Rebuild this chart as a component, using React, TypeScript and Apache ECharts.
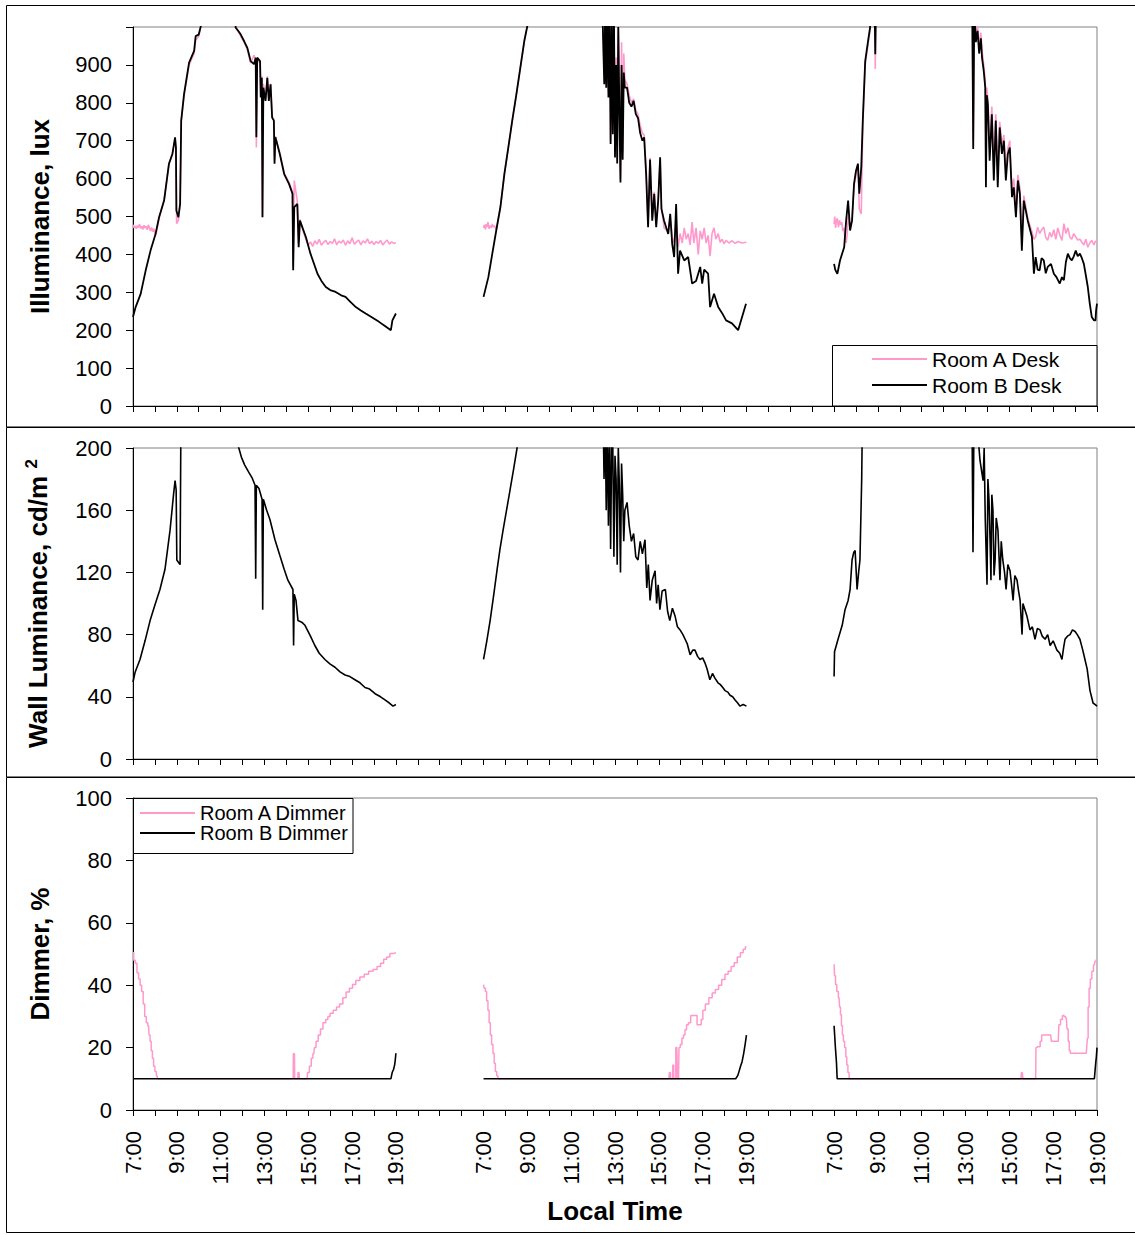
import React, { useEffect, useRef } from 'react';
import * as echarts from 'echarts';

const FONT = "'Liberation Sans', Arial, Helvetica, sans-serif";
const PINK = '#FF99CC';
const BLACK = '#000000';

// x axis: three days of 7:00-19:00, 4 empty hour slots between days
const DAY_OFFSET = [0, 16, 32];
const X_MAX = 44;
const TIME_LABELS = ['7:00', '9:00', '11:00', '13:00', '15:00', '17:00', '19:00'];

const ILLUM_AXIS = { min: 0, max: 1000, interval: 100 };
const WALL_AXIS = { min: 0, max: 200, interval: 40 };
const DIMMER_AXIS = { min: 0, max: 100, interval: 20 };

// ---------- Desk illuminance, lux  [hour of day, value] ----------
const deskA1: number[][] = [
  [7.0, 478], [7.05, 470], [7.1, 475], [7.15, 468], [7.2, 476], [7.25, 471], [7.3, 480], [7.35, 469],
  [7.4, 474], [7.45, 466], [7.5, 477], [7.55, 470], [7.6, 474], [7.65, 465], [7.7, 478], [7.75, 470],
  [7.8, 462], [7.85, 471], [7.9, 460], [7.95, 468], [8.0, 455], [8.05, 452], [8.19, 495], [8.42, 545],
  [8.64, 636], [8.8, 668], [8.92, 705], [8.96, 680], [8.99, 481], [9.07, 490], [9.15, 530], [9.2, 750],
  [9.33, 818], [9.56, 900], [9.79, 930], [9.86, 965], [10.0, 975], [10.1, 1003], [10.5, 1150], [11.0, 1200],
  [11.5, 1080], [11.69, 998], [11.8, 988], [11.92, 975], [12.07, 960], [12.22, 940], [12.37, 905], [12.52, 925],
  [12.6, 915], [12.63, 682], [12.67, 915], [12.8, 905], [12.83, 820], [12.88, 870], [12.91, 498], [12.95, 850],
  [13.05, 810], [13.13, 870], [13.2, 810], [13.28, 850], [13.35, 765], [13.43, 755], [13.46, 650], [13.5, 712],
  [13.7, 668], [13.9, 615], [14.12, 590], [14.28, 565], [14.31, 370], [14.36, 595], [14.5, 540], [14.56, 430],
  [14.62, 492], [14.8, 455], [14.9, 438], [15.0, 425], [15.1, 433], [15.2, 421], [15.3, 436], [15.4, 427],
  [15.5, 440], [15.6, 424], [15.7, 432], [15.8, 437], [15.9, 426], [16.0, 434], [16.1, 429], [16.2, 441],
  [16.3, 425], [16.4, 435], [16.5, 430], [16.6, 438], [16.7, 424], [16.8, 436], [16.9, 428], [17.0, 444],
  [17.1, 427], [17.2, 433], [17.3, 438], [17.4, 425], [17.5, 436], [17.6, 430], [17.7, 441], [17.8, 428],
  [17.9, 435], [18.0, 426], [18.1, 434], [18.2, 429], [18.3, 437], [18.4, 425], [18.5, 432], [18.6, 438],
  [18.7, 427], [18.8, 433], [18.9, 429], [19.0, 431],
];
const deskB1: number[][] = [
  [7.0, 235], [7.12, 261], [7.35, 296], [7.58, 358], [7.8, 410], [8.03, 454], [8.19, 498], [8.42, 542],
  [8.64, 639], [8.8, 665], [8.92, 709], [8.96, 682], [8.98, 516], [9.07, 498], [9.15, 533], [9.2, 753],
  [9.33, 823], [9.56, 906], [9.79, 937], [9.86, 976], [10.0, 980], [10.1, 1003], [10.5, 1150], [11.0, 1200],
  [11.5, 1080], [11.69, 998], [11.8, 990], [11.92, 980], [12.07, 963], [12.22, 945], [12.37, 910], [12.52, 902],
  [12.6, 919], [12.63, 709], [12.67, 919], [12.8, 910], [12.83, 814], [12.88, 866], [12.91, 498], [12.95, 840],
  [13.05, 805], [13.13, 866], [13.2, 805], [13.28, 849], [13.35, 761], [13.43, 753], [13.46, 639], [13.5, 709],
  [13.7, 665], [13.9, 612], [14.12, 586], [14.28, 560], [14.31, 358], [14.36, 525], [14.5, 533], [14.56, 419],
  [14.62, 489], [14.89, 446], [15.1, 402], [15.42, 349], [15.6, 330], [15.8, 314], [16.0, 306], [16.25, 301],
  [16.5, 292], [16.7, 288], [16.9, 276], [17.17, 261], [17.4, 252], [17.62, 244], [17.9, 234], [18.23, 222],
  [18.5, 211], [18.77, 200], [18.84, 226], [19.0, 244],
];
const deskA2: number[][] = [
  [7.0, 470], [7.04, 478], [7.08, 466], [7.12, 480], [7.16, 472], [7.2, 485], [7.25, 468], [7.3, 476],
  [7.35, 470], [7.4, 480], [7.45, 472], [7.5, 476], [7.58, 465], [7.77, 525], [7.95, 612], [8.13, 682],
  [8.31, 753], [8.5, 823], [8.68, 893], [8.86, 963], [9.0, 1003], [10.0, 1200], [11.5, 1250], [12.4, 1100],
  [12.51, 870], [12.55, 1050], [12.6, 860], [12.65, 1050], [12.7, 830], [12.75, 1050], [12.8, 700], [12.85, 1020],
  [12.9, 730], [12.95, 1050], [13.0, 670], [13.05, 920], [13.1, 660], [13.15, 1000], [13.2, 800], [13.25, 600],
  [13.3, 960], [13.35, 670], [13.4, 930], [13.45, 860], [13.55, 850], [13.65, 820], [13.75, 800], [13.85, 810],
  [13.95, 780], [14.05, 770], [14.15, 740], [14.25, 720], [14.33, 715], [14.42, 630], [14.51, 480], [14.6, 655],
  [14.7, 495], [14.79, 565], [14.88, 480], [14.97, 545], [15.06, 650], [15.12, 525], [15.24, 470], [15.43, 460],
  [15.52, 500], [15.61, 445], [15.7, 430], [15.79, 489], [15.88, 420], [15.97, 455], [16.07, 430], [16.16, 470],
  [16.25, 440], [16.34, 455], [16.43, 425], [16.52, 485], [16.6, 430], [16.7, 470], [16.8, 400], [16.89, 462],
  [16.98, 440], [17.07, 470], [17.16, 430], [17.25, 450], [17.34, 395], [17.43, 455], [17.52, 470], [17.6, 440],
  [17.71, 455], [17.8, 432], [17.89, 440], [17.98, 428], [18.07, 437], [18.2, 430], [18.34, 436], [18.48, 429],
  [18.62, 434], [18.8, 430], [19.0, 432],
];
const deskB2: number[][] = [
  [7.0, 288], [7.22, 340], [7.4, 402], [7.58, 463], [7.77, 525], [7.95, 612], [8.13, 682], [8.31, 753],
  [8.5, 823], [8.68, 893], [8.86, 963], [9.0, 1003], [10.0, 1200], [11.5, 1250], [12.4, 1100], [12.51, 849],
  [12.55, 1050], [12.6, 840], [12.65, 1050], [12.7, 814], [12.75, 1050], [12.8, 691], [12.85, 1020], [12.9, 717],
  [12.95, 1050], [13.0, 656], [13.05, 900], [13.1, 640], [13.15, 1000], [13.2, 780], [13.25, 590], [13.3, 900],
  [13.35, 650], [13.4, 880], [13.45, 840], [13.55, 840], [13.65, 800], [13.75, 790], [13.85, 805], [13.95, 770],
  [14.05, 760], [14.15, 720], [14.25, 700], [14.33, 709], [14.42, 612], [14.51, 472], [14.6, 650], [14.7, 489],
  [14.79, 560], [14.88, 472], [14.97, 540], [15.06, 656], [15.12, 520], [15.24, 489], [15.43, 454], [15.52, 507],
  [15.61, 428], [15.7, 393], [15.79, 533], [15.88, 349], [15.97, 410], [16.16, 384], [16.34, 393], [16.52, 323],
  [16.7, 330], [16.89, 367], [16.98, 323], [17.07, 360], [17.25, 349], [17.34, 261], [17.52, 296], [17.71, 261],
  [17.89, 245], [18.07, 226], [18.34, 218], [18.62, 200], [18.8, 235], [18.98, 270],
];
const deskA3: number[][] = [
  [7.0, 480], [7.03, 500], [7.07, 470], [7.1, 488], [7.15, 495], [7.2, 472], [7.25, 490], [7.3, 478],
  [7.35, 485], [7.4, 462], [7.45, 470], [7.5, 440], [7.55, 430], [7.6, 455], [7.65, 500], [7.73, 470],
  [7.82, 495], [7.91, 580], [8.0, 610], [8.09, 640], [8.15, 520], [8.24, 507], [8.31, 740], [8.42, 900],
  [8.55, 955], [8.64, 990], [8.75, 1100], [8.85, 1050], [8.88, 889], [8.92, 1100], [10.0, 1250], [12.0, 1250],
  [13.3, 1100], [13.35, 700], [13.4, 1050], [13.47, 980], [13.55, 1000], [13.62, 950], [13.7, 985], [13.75, 940],
  [13.83, 900], [13.9, 860], [13.93, 620], [13.97, 840], [14.02, 810], [14.1, 680], [14.2, 790], [14.29, 630],
  [14.38, 770], [14.47, 610], [14.56, 750], [14.66, 690], [14.75, 715], [14.84, 620], [14.93, 680], [15.02, 700],
  [15.12, 570], [15.2, 600], [15.3, 520], [15.39, 610], [15.48, 575], [15.57, 440], [15.66, 555], [15.84, 495],
  [16.03, 460], [16.12, 440], [16.2, 446], [16.29, 472], [16.38, 455], [16.47, 465], [16.57, 472], [16.66, 445],
  [16.75, 437], [16.84, 458], [16.93, 446], [17.03, 465], [17.12, 440], [17.21, 470], [17.3, 452], [17.4, 437],
  [17.49, 481], [17.58, 455], [17.67, 470], [17.76, 446], [17.85, 440], [17.94, 455], [18.03, 446], [18.12, 438],
  [18.22, 440], [18.31, 432], [18.4, 425], [18.49, 440], [18.58, 419], [18.67, 430], [18.76, 437], [18.86, 425],
  [18.93, 435], [19.0, 432],
];
const deskB3: number[][] = [
  [7.0, 375], [7.05, 360], [7.15, 349], [7.27, 384], [7.46, 419], [7.55, 489], [7.64, 542], [7.73, 463],
  [7.82, 489], [7.91, 586], [8.0, 621], [8.09, 639], [8.15, 560], [8.24, 630], [8.31, 753], [8.42, 910],
  [8.55, 963], [8.64, 998], [8.75, 1100], [8.85, 1050], [8.88, 928], [8.92, 1100], [10.0, 1250], [12.0, 1250],
  [13.3, 1100], [13.35, 678], [13.4, 1050], [13.47, 960], [13.55, 990], [13.62, 930], [13.7, 970], [13.75, 920],
  [13.83, 884], [13.9, 840], [13.93, 577], [13.97, 820], [14.02, 796], [14.1, 647], [14.2, 770], [14.29, 595],
  [14.38, 753], [14.47, 577], [14.56, 735], [14.66, 665], [14.75, 700], [14.84, 595], [14.93, 665], [15.02, 682],
  [15.12, 551], [15.2, 577], [15.3, 498], [15.39, 595], [15.48, 560], [15.57, 410], [15.66, 542], [15.84, 489],
  [16.03, 446], [16.12, 349], [16.2, 393], [16.29, 360], [16.38, 358], [16.47, 390], [16.57, 384], [16.66, 350],
  [16.75, 367], [16.9, 375], [17.03, 349], [17.15, 340], [17.3, 323], [17.4, 340], [17.49, 332], [17.58, 380],
  [17.67, 402], [17.76, 390], [17.85, 384], [17.94, 395], [18.03, 410], [18.12, 395], [18.22, 402], [18.31, 390],
  [18.4, 375], [18.49, 345], [18.58, 314], [18.67, 270], [18.76, 235], [18.86, 226], [18.93, 226], [18.96, 253],
  [19.0, 270],
];

// ---------- Wall luminance, cd/m2 ----------
const wall1: number[][] = [
  [7.0, 49.5], [7.1, 56], [7.32, 64], [7.55, 76], [7.78, 89], [8.0, 99], [8.23, 109], [8.46, 122],
  [8.69, 147], [8.85, 170], [8.92, 179], [8.97, 173], [9.0, 128], [9.15, 125], [9.18, 200], [9.19, 230],
  [10.0, 300], [11.5, 280], [11.79, 202], [11.95, 194], [12.1, 189], [12.3, 184], [12.43, 181], [12.57, 176],
  [12.6, 116], [12.63, 176], [12.75, 174], [12.89, 167], [12.92, 96], [12.95, 167], [13.1, 160], [13.25, 154],
  [13.48, 141], [13.7, 131], [13.9, 122], [14.07, 115], [14.3, 109], [14.33, 73], [14.36, 106], [14.44, 102],
  [14.53, 89], [14.7, 88], [14.85, 86], [15.1, 79], [15.3, 73], [15.5, 68], [15.76, 64], [16.0, 61],
  [16.22, 59], [16.45, 56], [16.68, 54], [16.9, 53], [17.13, 51], [17.36, 49], [17.59, 46], [17.8, 45],
  [18.05, 42], [18.3, 40], [18.5, 38], [18.7, 36], [18.87, 34], [19.0, 35],
];
const wall2: number[][] = [
  [7.0, 64], [7.15, 76], [7.3, 89], [7.46, 105], [7.62, 122], [7.75, 135], [7.89, 147], [8.05, 160],
  [8.21, 173], [8.38, 187], [8.53, 200], [8.7, 215], [10.0, 300], [12.0, 280], [12.45, 230], [12.5, 180],
  [12.55, 220], [12.6, 160], [12.65, 215], [12.7, 150], [12.75, 210], [12.8, 135], [12.85, 205], [12.9, 200],
  [12.95, 130], [13.0, 195], [13.05, 180], [13.1, 125], [13.15, 200], [13.2, 175], [13.25, 120], [13.3, 190],
  [13.35, 170], [13.4, 140], [13.45, 160], [13.55, 165], [13.65, 150], [13.75, 140], [13.85, 145], [13.95, 130],
  [14.05, 128], [14.15, 140], [14.25, 132], [14.37, 141], [14.45, 110], [14.52, 125], [14.6, 102], [14.7, 115],
  [14.83, 121], [14.9, 100], [14.97, 112], [15.05, 96], [15.15, 108], [15.3, 109], [15.4, 95], [15.5, 89],
  [15.62, 97], [15.74, 92], [15.85, 85], [15.97, 83], [16.1, 80], [16.2, 77], [16.3, 74], [16.43, 67],
  [16.55, 70], [16.65, 70], [16.77, 66], [16.88, 64], [17.0, 65], [17.1, 62], [17.2, 58], [17.33, 51],
  [17.45, 55], [17.56, 52], [17.7, 49], [17.8, 48], [17.92, 46], [18.02, 44], [18.15, 43], [18.25, 41],
  [18.37, 40], [18.48, 38], [18.6, 36], [18.7, 34], [18.85, 35], [19.0, 34],
];
const wall3: number[][] = [
  [7.0, 53], [7.02, 69], [7.18, 77], [7.37, 86], [7.5, 96], [7.64, 102], [7.73, 109], [7.82, 128],
  [7.9, 133], [7.96, 134], [8.05, 109], [8.12, 120], [8.18, 128], [8.26, 180], [8.28, 205], [9.0, 300],
  [12.0, 300], [13.3, 210], [13.34, 133], [13.38, 210], [13.5, 220], [13.66, 192], [13.8, 179], [13.85, 200],
  [13.9, 154], [13.98, 112], [14.02, 180], [14.07, 167], [14.12, 140], [14.16, 115], [14.2, 170], [14.25, 160],
  [14.3, 118], [14.35, 128], [14.4, 155], [14.48, 147], [14.57, 115], [14.63, 140], [14.7, 128], [14.78, 120],
  [14.85, 109], [14.93, 125], [15.03, 121], [15.1, 112], [15.17, 102], [15.25, 118], [15.35, 115], [15.42, 108],
  [15.49, 102], [15.58, 80], [15.62, 100], [15.71, 96], [15.8, 92], [15.94, 83], [16.05, 85], [16.17, 77],
  [16.28, 84], [16.4, 83], [16.5, 79], [16.63, 77], [16.75, 80], [16.86, 73], [17.0, 76], [17.17, 70],
  [17.3, 68], [17.4, 64], [17.48, 72], [17.54, 77], [17.65, 79], [17.77, 80], [17.88, 83], [18.0, 82],
  [18.1, 80], [18.22, 77], [18.35, 70], [18.45, 64], [18.55, 58], [18.68, 44], [18.75, 40], [18.82, 36],
  [18.92, 35], [19.0, 34],
];

// ---------- Dimmer, % ----------
const dimA1: number[][] = [
  [7.0, 50.4], [7.07, 48], [7.14, 47], [7.22, 44], [7.29, 42], [7.36, 40], [7.43, 38], [7.5, 34],
  [7.57, 30], [7.64, 28], [7.71, 27], [7.76, 24], [7.8, 22], [7.86, 19], [7.91, 16.6], [7.97, 14],
  [8.03, 12.3], [8.1, 11], [8.14, 10], [14.31, 10], [14.33, 18], [14.37, 18], [14.39, 10], [14.52, 10],
  [14.54, 12], [14.58, 12], [14.6, 10], [14.94, 10], [15.0, 12], [15.1, 14], [15.17, 16.6], [15.25, 18],
  [15.31, 20], [15.4, 22], [15.51, 24], [15.6, 26], [15.74, 28], [15.85, 29], [15.94, 30], [16.05, 31],
  [16.23, 32], [16.35, 33], [16.51, 34], [16.65, 36], [16.8, 37.8], [16.95, 39], [17.09, 40.2], [17.25, 41.5],
  [17.46, 42.6], [17.65, 43.5], [17.86, 44.5], [18.05, 45], [18.23, 46], [18.37, 47], [18.51, 48.3], [18.65, 49],
  [18.8, 50.2], [19.0, 50.4],
];
const dimB1: number[][] = [
  [7.0, 10], [18.77, 10], [18.83, 12], [18.89, 13], [18.94, 14.4], [18.97, 16], [19.0, 18.2],
];
const dimA2: number[][] = [
  [7.0, 40.2], [7.06, 39], [7.11, 38], [7.17, 35], [7.23, 32], [7.28, 28], [7.34, 24], [7.4, 21],
  [7.46, 18.2], [7.51, 15], [7.57, 12.3], [7.63, 11], [7.69, 10], [15.46, 10], [15.5, 12], [15.55, 10],
  [15.62, 10], [15.66, 14.4], [15.7, 10], [15.75, 10], [15.8, 20], [15.84, 20], [15.86, 10], [15.9, 10],
  [15.94, 20], [16.02, 21], [16.09, 23], [16.16, 24], [16.23, 25.7], [16.3, 27.3], [16.4, 28], [16.51, 30.3],
  [16.6, 30.3], [16.71, 30.3], [16.78, 27.3], [16.9, 27.3], [16.97, 29], [17.05, 32], [17.2, 34], [17.37, 36],
  [17.5, 37.5], [17.66, 38.6], [17.8, 40], [17.94, 41.8], [18.1, 43.5], [18.23, 44.5], [18.37, 46], [18.51, 47.2],
  [18.65, 49], [18.8, 50.4], [18.9, 51.5], [19.0, 52.3],
];
const dimB2: number[][] = [
  [7.0, 10], [18.51, 10], [18.6, 11], [18.66, 12.3], [18.73, 14], [18.8, 15.5], [18.87, 18], [18.94, 21],
  [19.0, 24],
];
const dimA3: number[][] = [
  [7.0, 46.7], [7.04, 43], [7.09, 40.2], [7.16, 38], [7.23, 36], [7.27, 33], [7.31, 30.5], [7.36, 27],
  [7.4, 24], [7.45, 22], [7.51, 20], [7.56, 17], [7.6, 14.4], [7.66, 12], [7.71, 10], [15.53, 10],
  [15.57, 12], [15.61, 12], [15.63, 10], [16.2, 10], [16.23, 20], [16.3, 20.3], [16.37, 20.3], [16.44, 22],
  [16.51, 24], [16.7, 24], [16.89, 24], [16.94, 22], [17.1, 22], [17.23, 22], [17.29, 27.3], [17.38, 29],
  [17.46, 30.3], [17.53, 30], [17.6, 29.5], [17.66, 26], [17.71, 22], [17.76, 19], [17.8, 18.2], [18.2, 18.2],
  [18.51, 18.2], [18.55, 20], [18.57, 23], [18.62, 33], [18.66, 39], [18.73, 42], [18.8, 44.5], [18.88, 46.5],
  [18.94, 47.7], [19.0, 48.3],
];
const dimB3: number[][] = [
  [7.0, 27], [7.06, 20], [7.11, 15], [7.14, 10], [18.88, 10], [18.94, 15], [18.97, 17], [19.0, 20],
];

const toAxis = (data: number[][], day: number) =>
  data.map(([h, v]) => [h - 7 + DAY_OFFSET[day], v]);

const mkSeries = (
  name: string,
  data: number[][],
  day: number,
  grid: number,
  color: string,
  width: number,
  step?: string,
) => ({
  type: 'line',
  name,
  xAxisIndex: grid,
  yAxisIndex: grid,
  data: toAxis(data, day),
  showSymbol: false,
  symbol: 'none',
  clip: true,
  step: step || false,
  lineStyle: { color, width },
  itemStyle: { color },
  emphasis: { disabled: true },
  silent: true,
  z: color === BLACK ? 3 : 2,
});

const xLabel = (v: number) => {
  const r = Math.round(v);
  const p = r % 16;
  if (p <= 12 && p % 2 === 0) return TIME_LABELS[p / 2];
  return '';
};

const GRIDS = [
  { left: 133, top: 27, width: 964, height: 379 },
  { left: 133, top: 448, width: 964, height: 311 },
  { left: 133, top: 798, width: 964, height: 312 },
];

export default function App() {
  const ref = useRef<HTMLDivElement>(null);

  useEffect(() => {
    document.body.style.margin = '0';
    if (!ref.current) return;
    const chart = echarts.init(ref.current, undefined, { renderer: 'svg' });

    const xAxes = [0, 1, 2].map((i) => ({
      type: 'value',
      gridIndex: i,
      min: 0,
      max: X_MAX,
      interval: 1,
      axisLine: { show: true, onZero: false, lineStyle: { color: BLACK, width: 1 } },
      axisTick: { show: true, length: 6, lineStyle: { color: BLACK, width: 1 } },
      splitLine: { show: false },
      axisLabel: {
        show: i === 2,
        formatter: xLabel,
        rotate: 90,
        margin: 21,
        fontSize: 22,
        fontFamily: FONT,
        color: BLACK,
        hideOverlap: false,
        showMinLabel: true,
        showMaxLabel: true,
      },
      name: i === 2 ? 'Local Time' : '',
      nameLocation: 'middle',
      nameGap: 88,
      nameTextStyle: { fontSize: 26, fontWeight: 'bold', fontFamily: FONT, color: BLACK },
    }));

    const yCommon = {
      type: 'value',
      axisLine: { show: true, lineStyle: { color: BLACK, width: 1 } },
      axisTick: { show: true, length: 7, lineStyle: { color: BLACK, width: 1 } },
      splitLine: { show: false },
      nameLocation: 'middle',
      nameRotate: 90,
      nameGap: 80,
    };
    const labelStyle = { fontSize: 22, fontFamily: FONT, color: BLACK, margin: 21 };
    const titleStyle = { fontSize: 26, fontWeight: 'bold', fontFamily: FONT, color: BLACK };

    const yAxes = [
      {
        ...yCommon,
        gridIndex: 0,
        ...ILLUM_AXIS,
        axisLabel: { ...labelStyle, formatter: (v: number) => (v >= ILLUM_AXIS.max ? '' : String(v)) },
        name: 'Illuminance, lux',
        nameTextStyle: titleStyle,
      },
      {
        ...yCommon,
        gridIndex: 1,
        ...WALL_AXIS,
        axisLabel: { ...labelStyle },
        name: '{a|Wall Luminance, cd/m }{s|2}',
        nameTextStyle: {
          ...titleStyle,
          rich: {
            a: { ...titleStyle, lineHeight: 30 },
            s: { fontSize: 17, fontWeight: 'bold', fontFamily: FONT, color: BLACK, lineHeight: 17, verticalAlign: 'top' },
          },
        },
      },
      {
        ...yCommon,
        gridIndex: 2,
        ...DIMMER_AXIS,
        axisLabel: { ...labelStyle },
        name: 'Dimmer, %',
        nameTextStyle: titleStyle,
      },
    ];

    const series: any[] = [];
    [deskA1, deskA2, deskA3].forEach((d, day) => series.push(mkSeries('Room A Desk', d, day, 0, PINK, 1.6)));
    [deskB1, deskB2, deskB3].forEach((d, day) => series.push(mkSeries('Room B Desk', d, day, 0, BLACK, 1.8)));
    [wall1, wall2, wall3].forEach((d, day) => series.push(mkSeries('Wall Luminance', d, day, 1, BLACK, 1.6)));
    [dimA1, dimA2, dimA3].forEach((d, day) => series.push(mkSeries('Room A Dimmer', d, day, 2, PINK, 1.5, 'middle')));
    [dimB1, dimB2, dimB3].forEach((d, day) => series.push(mkSeries('Room B Dimmer', d, day, 2, BLACK, 1.6)));

    const legendText = { fontFamily: FONT, color: BLACK };

    chart.setOption({
      animation: false,
      backgroundColor: '#ffffff',
      textStyle: { fontFamily: FONT },
      grid: GRIDS.map((g) => ({ ...g, show: true, borderColor: '#808080', borderWidth: 1, backgroundColor: 'transparent' })),
      xAxis: xAxes,
      yAxis: yAxes,
      legend: [
        {
          orient: 'vertical',
          left: 872,
          top: 346,
          padding: 0,
          itemWidth: 55,
          itemHeight: 2,
          itemGap: 0,
          icon: 'rect',
          selectedMode: false,
          z: 10,
          textStyle: { ...legendText, fontSize: 21, lineHeight: 26 },
          data: ['Room A Desk', 'Room B Desk'],
        },
        {
          orient: 'vertical',
          left: 140,
          top: 803,
          padding: 0,
          itemWidth: 55,
          itemHeight: 2,
          itemGap: 0,
          icon: 'rect',
          selectedMode: false,
          z: 10,
          textStyle: { ...legendText, fontSize: 20, lineHeight: 20 },
          data: ['Room A Dimmer', 'Room B Dimmer'],
        },
      ],
      graphic: [
        { type: 'rect', silent: true, z: 1, shape: { x: 6.5, y: 5.5, width: 1140, height: 421.5 }, style: { fill: 'none', stroke: BLACK, lineWidth: 1 } },
        { type: 'rect', silent: true, z: 1, shape: { x: 6.5, y: 427.5, width: 1140, height: 349.5 }, style: { fill: 'none', stroke: BLACK, lineWidth: 1 } },
        { type: 'rect', silent: true, z: 1, shape: { x: 6.5, y: 777.5, width: 1140, height: 455 }, style: { fill: 'none', stroke: BLACK, lineWidth: 1 } },
        { type: 'rect', silent: true, z: 9, shape: { x: 832.5, y: 345.5, width: 264.5, height: 60.5 }, style: { fill: '#ffffff', stroke: BLACK, lineWidth: 1 } },
        { type: 'rect', silent: true, z: 9, shape: { x: 133.5, y: 798.5, width: 219.5, height: 55 }, style: { fill: '#ffffff', stroke: BLACK, lineWidth: 1 } },
      ],
      series,
    });

    return () => chart.dispose();
  }, []);

  return <div ref={ref} style={{ width: 1135, height: 1235 }} />;
}
